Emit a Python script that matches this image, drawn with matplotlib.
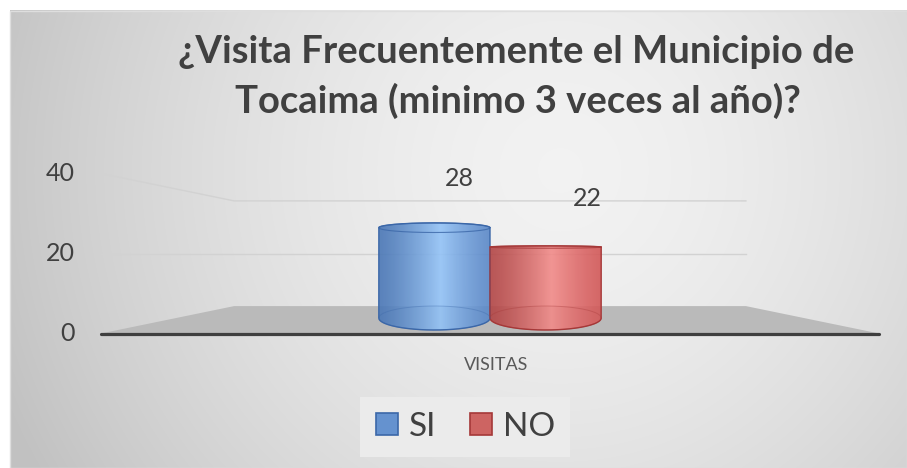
import numpy as np
import matplotlib.pyplot as plt
from matplotlib.path import Path
from matplotlib.patches import PathPatch, Polygon, Rectangle
from matplotlib.lines import Line2D

plt.rcParams['font.family'] = ['Lato', 'DejaVu Sans']

# data
titulo = ['¿Visita Frecuentemente el Municipio de', 'Tocaima (minimo 3 veces al año)?']
categoria = 'VISITAS'
series = ['SI', 'NO']
valores = [28, 22]
yticks = [0, 20, 40]

# colours (edge, highlight, right edge, outline, legend fill)
col_izq = ['#4a77b6', '#b34646']
col_luz = ['#93c3f7', '#f28b89']
col_der = ['#5a88c8', '#d25858']
col_borde = ['#3b67a8', '#a53838']
col_leyenda = ['#6592cf', '#cd6462']

W, H = 907, 468
fig = plt.figure(figsize=(W / 100, H / 100), dpi=100)

# radial grey background of the chart area
bg = fig.add_axes([10 / W, 0, (W - 10) / W, (H - 10) / H])
yy, xx = np.mgrid[10:H, 10:W]
r = np.clip(np.hypot(xx - 560, yy - 170) / 600, 0, 1) ** 1.6
g = 0.95 - 0.19 * r
bg.imshow(np.dstack([g, g, g]), aspect='auto', interpolation='bilinear')
bg.axis('off')
fig.patches.append(Rectangle((10 / W, 0), (W - 10) / W, (H - 10.5) / H,
                             transform=fig.transFigure, fill=False,
                             edgecolor='#dedede', lw=1))

# main axes: x in category units, y in value units (bar mid-depth plane)
X0, XU = 490.0, 111.2      # pixel of x=0, pixels per unit
Y0, YU = 317.5, 3.2        # pixel of value 0, pixels per unit
ax = fig.add_axes([0, 0, 1, 1])
ax.set_xlim((0 - X0) / XU, (W - X0) / XU)
ax.set_ylim((Y0 - H) / YU, Y0 / YU)
ax.axis('off')
ax.patch.set_alpha(0)

# simple perspective: eye level at value 20, depth given by scale s
EYE, S_MID = 20.0, 3.2
S_FRONT, S_BACK = 4.0, 2.63
S_CF, S_CB = 3.825, 2.625
XF = 2.8


def proj(x, v, s):
    return x * s / S_MID, EYE - (EYE - v) * s / S_MID


# floor
floor = [proj(-XF, 0, S_FRONT), proj(XF, 0, S_FRONT),
         proj(XF, 0, S_BACK), proj(-XF, 0, S_BACK)]
ax.add_patch(Polygon(floor, closed=True, facecolor='#bababa', edgecolor='none', zorder=1))
fx = [proj(-XF, 0, S_FRONT)[0], proj(XF, 0, S_FRONT)[0]]
fy = [proj(-XF, 0, S_FRONT)[1]] * 2
ax.plot(fx, fy, color='#3f3f3f', lw=2.3, solid_capstyle='round', zorder=2)

# gridlines (side wall + back wall) and tick labels
for t in yticks:
    if t > 0:
        pts = np.array([proj(-XF, t, S_FRONT), proj(-XF, t, S_BACK), proj(XF, t, S_BACK)])
        ax.plot(pts[:, 0], pts[:, 1], color='#d2d2d2', lw=1, zorder=1)
    ax.annotate(str(t), xy=proj(-XF, t, S_FRONT), xytext=(-26, 0),
                textcoords='offset pixels', ha='right', va='center',
                fontsize=18, color='#404040')

# cylinders
n = len(valores)
pos = np.arange(n) - (n - 1) / 2
th = np.linspace(0, np.pi, 80)
for i, v in enumerate(valores):
    xc = pos[i]
    yb_f, yb_b = proj(0, 0, S_CF)[1], proj(0, 0, S_CB)[1]
    yt_f, yt_b = proj(0, v, S_CF)[1], proj(0, v, S_CB)[1]
    cb, hb = (yb_f + yb_b) / 2, abs(yb_f - yb_b) / 2
    ct, ht = (yt_f + yt_b) / 2, abs(yt_f - yt_b) / 2

    top_x = xc - 0.5 * np.cos(th)
    top_y = ct + ht * np.sin(th)
    bot_x = xc + 0.5 * np.cos(th)
    bot_y = cb - hb * np.sin(th)
    vx = np.concatenate([[xc - 0.5], top_x, [xc + 0.5], bot_x])
    vy = np.concatenate([[cb], top_y, [cb], bot_y])
    body = PathPatch(Path(np.column_stack([vx, vy])), facecolor='none',
                     edgecolor=col_borde[i], lw=1.0, zorder=4)
    ax.add_patch(body)

    # horizontal shading
    tt = np.linspace(0, 1, 256)
    c0 = np.array(plt.matplotlib.colors.to_rgb(col_izq[i]))
    c1 = np.array(plt.matplotlib.colors.to_rgb(col_luz[i]))
    c2 = np.array(plt.matplotlib.colors.to_rgb(col_der[i]))
    peak = 0.55
    w = np.where(tt < peak, (tt / peak) ** 1.3, ((1 - tt) / (1 - peak)) ** 1.3)
    base = np.where(tt[:, None] < peak, c0, c2)
    rgb = base + (c1 - base) * w[:, None]
    img = np.repeat(rgb[None, :, :], 4, axis=0)
    im = ax.imshow(img, extent=(xc - 0.5, xc + 0.5, cb - hb, ct + ht),
                   aspect='auto', alpha=0.9, zorder=3, interpolation='bilinear')
    im.set_clip_path(body)

    # visible rims
    full = np.linspace(0, 2 * np.pi, 160)
    ax.plot(xc + 0.5 * np.cos(full), ct + ht * np.sin(full),
            color=col_borde[i], lw=0.8, alpha=0.8, zorder=5)
    ax.plot(xc + 0.5 * np.cos(full), cb + hb * np.sin(full),
            color=col_borde[i], lw=0.7, alpha=0.35, zorder=5)

    # data label
    ax.annotate(str(v), xy=(xc * 1.15 + 0.3, ct), xytext=(0, 49),
                textcoords='offset pixels', ha='center', va='center',
                fontsize=18, color='#404040', zorder=6)

# category label
ax.annotate(categoria, xy=proj(0, 0, S_FRONT), xytext=(6, -32),
            textcoords='offset pixels', ha='center', va='center',
            fontsize=13, color='#595959')

# title
fig.text(516 / W, 1 - 63 / H, titulo[0], ha='center', va='baseline',
         fontsize=27.5, fontweight='bold', color='#404040')
fig.text(518 / W, 1 - 113 / H, titulo[1], ha='center', va='baseline',
         fontsize=27.5, fontweight='bold', color='#404040')

# legend
handles = [Line2D([], [], marker='s', ls='', markersize=16,
                  markerfacecolor=col_leyenda[i], markeredgecolor=col_borde[i],
                  markeredgewidth=1.2) for i in range(n)]
leg = fig.legend(handles, series, loc='center', bbox_to_anchor=(465 / W, 1 - 426.5 / H),
                 ncol=2, fontsize=24, handlelength=0.7, handletextpad=0.3,
                 columnspacing=1.0, borderpad=0.45, fancybox=False, frameon=True,
                 labelcolor='#404040')
leg.get_frame().set_facecolor('#ebebeb')
leg.get_frame().set_edgecolor('none')
leg.get_frame().set_alpha(1)

fig.savefig('out.png', dpi=100)
